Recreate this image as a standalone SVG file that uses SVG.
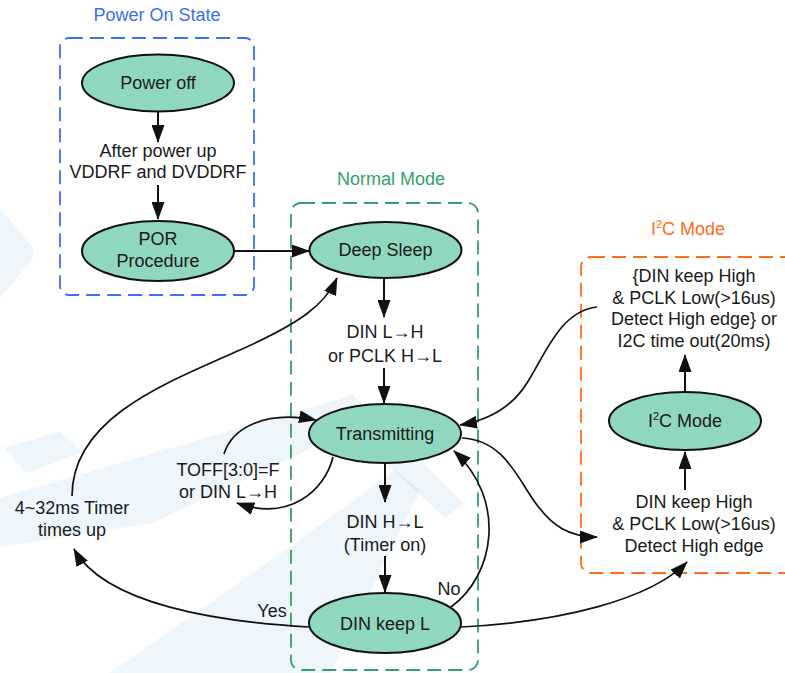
<svg xmlns="http://www.w3.org/2000/svg" width="785" height="673" viewBox="0 0 785 673">
<defs>
<marker id="ah" viewBox="0 0 18 13" refX="17" refY="6.5" markerWidth="18" markerHeight="13" markerUnits="userSpaceOnUse" orient="auto">
<path d="M0,0 L18,6.5 L0,13 z" fill="#111"/>
</marker>
<style>
text{font-family:"Liberation Sans",Arial,sans-serif;font-size:18px;fill:#1a1a1a;text-anchor:middle}
.node{fill:#8fd8bf;stroke:#111;stroke-width:2}
.arr{fill:none;stroke:#111;stroke-width:2;marker-end:url(#ah)}
.crv{fill:none;stroke:#111;stroke-width:1.7;marker-end:url(#ah)}
.box{fill:none;stroke-width:1.8;stroke-dasharray:14 7}
.wm{fill:#2b7bd0;opacity:0.08}
</style>
</defs>
<rect width="785" height="673" fill="#fff"/>

<g id="watermark">
<polygon class="wm" points="0,208 33,248 33,258 0,298"/>
<polygon class="wm" points="3,448 60,432 83,452 27,473"/>
<polygon class="wm" points="0,498 353,395 463,503 445,518 350,430 152,523 0,547"/>
<polygon class="wm" points="110,673 300,540 395,470 420,490 330,673"/>
</g>

<g id="clusters">
<rect class="box" x="60" y="38" width="194" height="257" rx="9" stroke="#3d6ef5"/>
<text x="157" y="21" fill="#3d6ef5" style="fill:#3d6ef5">Power On State</text>
<rect class="box" x="291" y="203" width="187" height="467" rx="10" stroke="#32a067"/>
<text x="391" y="185" style="fill:#32a067">Normal Mode</text>
<rect class="box" x="581" y="257" width="230" height="316" rx="10" stroke="#ff6c17"/>
<text x="688" y="235" style="fill:#ff6c17">I<tspan font-size="11" dy="-7">2</tspan><tspan dy="7">C Mode</tspan></text>
</g>

<g id="connectors">
<line class="arr" x1="158" y1="112" x2="158" y2="142"/>
<line class="arr" x1="158" y1="185" x2="158" y2="219"/>
<line class="arr" x1="234" y1="251" x2="309" y2="251"/>
<line class="arr" x1="384" y1="278" x2="384" y2="317"/>
<line class="arr" x1="384" y1="368" x2="384" y2="403"/>
<line class="arr" x1="385" y1="463" x2="385" y2="502"/>
<line class="arr" x1="385" y1="556" x2="385" y2="592"/>
<line class="arr" x1="685" y1="392" x2="685" y2="355"/>
<line class="arr" x1="685" y1="490" x2="685" y2="452"/>
<path class="crv" d="M597,307 C560,311 545,355 527,383 C512,407 490,420 460,425"/>
<path class="crv" d="M462,438 C505,440 518,480 537,505 C552,525 568,537 597,537"/>
<path class="crv" d="M461,627 C560,622 650,600 687,562"/>
<path class="crv" d="M451,607 C495,575 507,500 454,451"/>
<path class="crv" d="M309,627 C220,622 105,605 74,549"/>
<path class="crv" d="M72,496 C72,420 160,385 240,350 C300,323 325,305 337,278"/>
<path class="crv" d="M224,454 C232,428 265,410 316,420"/>
<path class="crv" d="M333,457 C325,490 290,522 237,503"/>
</g>

<g id="labels">
<text x="158" y="157">After power up</text>
<text x="158" y="178">VDDRF and DVDDRF</text>
<text x="385" y="338">DIN L→H</text>
<text x="385" y="362">or PCLK H→L</text>
<text x="385" y="528">DIN H→L</text>
<text x="385" y="551">(Timer on)</text>
<text x="228" y="476">TOFF[3:0]=F</text>
<text x="228" y="498">or DIN L→H</text>
<text x="72" y="514">4~32ms Timer</text>
<text x="72" y="536">times up</text>
<text x="272" y="617">Yes</text>
<text x="449" y="595">No</text>
<text x="694" y="282">{DIN keep High</text>
<text x="694" y="304">&amp; PCLK Low(&gt;16us)</text>
<text x="694" y="325">Detect High edge} or</text>
<text x="694" y="347">I2C time out(20ms)</text>
<text x="694" y="508">DIN keep High</text>
<text x="694" y="530">&amp; PCLK Low(&gt;16us)</text>
<text x="694" y="552">Detect High edge</text>
</g>

<g id="node-poweroff">
<ellipse class="node" cx="158" cy="83" rx="76" ry="28.5"/>
<text x="158" y="89">Power off</text>
</g>
<g id="node-por">
<ellipse class="node" cx="158" cy="251" rx="76" ry="30"/>
<text x="158" y="245">POR</text>
<text x="158" y="267">Procedure</text>
</g>
<g id="node-deepsleep">
<ellipse class="node" cx="385.5" cy="250" rx="76" ry="28"/>
<text x="385.5" y="256">Deep Sleep</text>
</g>
<g id="node-transmitting">
<ellipse class="node" cx="385" cy="433.5" rx="76" ry="29.5"/>
<text x="385" y="440">Transmitting</text>
</g>
<g id="node-dinkeepl">
<ellipse class="node" cx="385" cy="623" rx="76" ry="30"/>
<text x="385" y="630">DIN keep L</text>
</g>
<g id="node-i2cmode">
<ellipse class="node" cx="685" cy="421" rx="76" ry="29"/>
<text x="685" y="427">I<tspan font-size="11" dy="-7">2</tspan><tspan dy="7">C Mode</tspan></text>
</g>
</svg>
